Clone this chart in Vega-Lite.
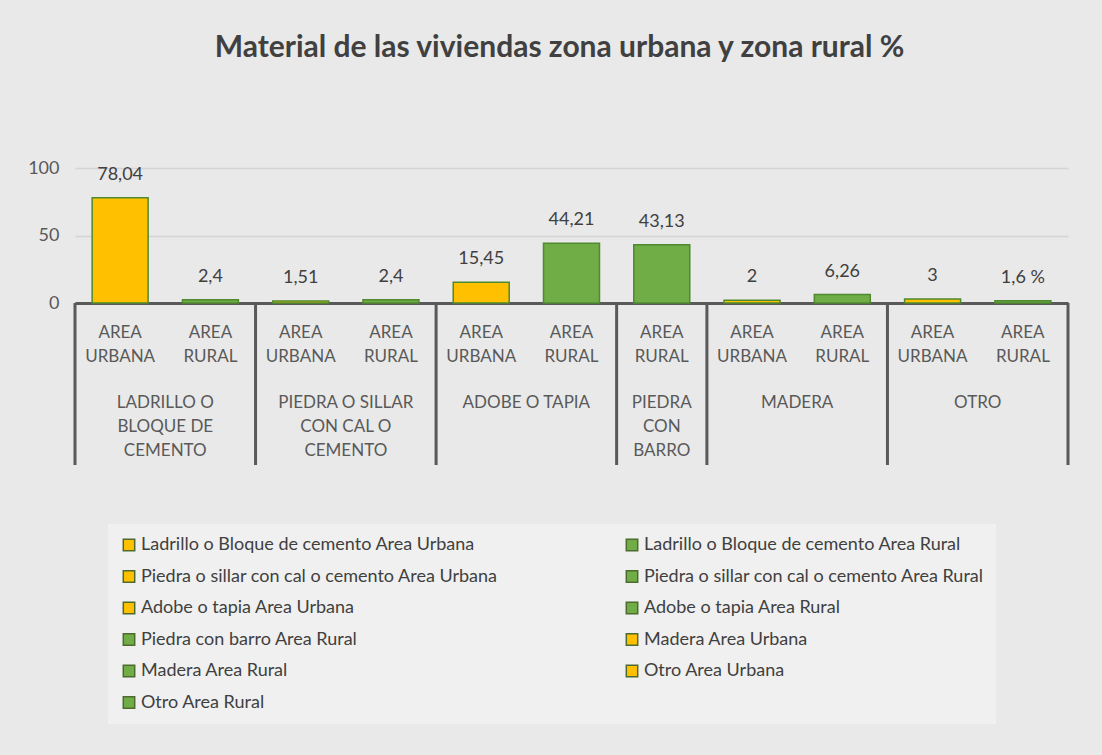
{
  "$schema": "https://vega.github.io/schema/vega-lite/v6.json",
  "width": 993,
  "height": 135,
  "autosize": "none",
  "padding": {"left": 75, "top": 168, "right": 34, "bottom": 452},
  "background": "#e9e9e9",
  "title": {
    "text": "Material  de las viviendas  zona urbana y zona rural %",
    "fontSize": 30,
    "font": "Lato",
    "fontWeight": "bold",
    "color": "#404040",
    "anchor": "middle",
    "frame": "group",
    "offset": 96,
    "dx": -12
  },
  "datasets": {
    "barras": [
      {"serie": "Ladrillo o Bloque de cemento Area Urbana", "area": "AREA\nURBANA", "valor": 78.04, "etiqueta": "78,04"},
      {"serie": "Ladrillo o Bloque de cemento Area Rural", "area": "AREA\nRURAL", "valor": 2.4, "etiqueta": "2,4"},
      {"serie": "Piedra o sillar con cal o cemento Area Urbana", "area": "AREA\nURBANA", "valor": 1.51, "etiqueta": "1,51"},
      {"serie": "Piedra o sillar con cal o cemento Area Rural", "area": "AREA\nRURAL", "valor": 2.4, "etiqueta": "2,4"},
      {"serie": "Adobe o tapia Area Urbana", "area": "AREA\nURBANA", "valor": 15.45, "etiqueta": "15,45"},
      {"serie": "Adobe o tapia Area Rural", "area": "AREA\nRURAL", "valor": 44.21, "etiqueta": "44,21"},
      {"serie": "Piedra con barro Area Rural", "area": "AREA\nRURAL", "valor": 43.13, "etiqueta": "43,13"},
      {"serie": "Madera Area Urbana", "area": "AREA\nURBANA", "valor": 2, "etiqueta": "2"},
      {"serie": "Madera Area Rural", "area": "AREA\nRURAL", "valor": 6.26, "etiqueta": "6,26"},
      {"serie": "Otro Area Urbana", "area": "AREA\nURBANA", "valor": 3, "etiqueta": "3"},
      {"serie": "Otro Area Rural", "area": "AREA\nRURAL", "valor": 1.6, "etiqueta": "1,6 %"}
    ],
    "grupos": [
      {"grupo": "LADRILLO O\nBLOQUE DE\nCEMENTO", "inicio": "Ladrillo o Bloque de cemento Area Urbana", "n": 2},
      {"grupo": "PIEDRA O SILLAR\nCON CAL O\nCEMENTO", "inicio": "Piedra o sillar con cal o cemento Area Urbana", "n": 2},
      {"grupo": "ADOBE O TAPIA", "inicio": "Adobe o tapia Area Urbana", "n": 2},
      {"grupo": "PIEDRA\nCON\nBARRO", "inicio": "Piedra con barro Area Rural", "n": 1},
      {"grupo": "MADERA", "inicio": "Madera Area Urbana", "n": 2},
      {"grupo": "OTRO", "inicio": "Otro Area Urbana", "n": 2}
    ]
  },
  "layer": [
    {
      "data": {"name": "barras"},
      "mark": {"type": "bar", "width": {"band": 0.62}, "stroke": "#4E8A2E", "strokeWidth": 1.5},
      "encoding": {
        "x": {
          "field": "serie", "type": "nominal",
          "scale": {"domain": ["Ladrillo o Bloque de cemento Area Urbana", "Ladrillo o Bloque de cemento Area Rural", "Piedra o sillar con cal o cemento Area Urbana", "Piedra o sillar con cal o cemento Area Rural", "Adobe o tapia Area Urbana", "Adobe o tapia Area Rural", "Piedra con barro Area Rural", "Madera Area Urbana", "Madera Area Rural", "Otro Area Urbana", "Otro Area Rural"], "paddingInner": 0, "paddingOuter": 0},
          "axis": {"labels": false, "ticks": false, "title": null, "domain": true, "domainColor": "#595959", "domainWidth": 3, "grid": false}
        },
        "y": {
          "field": "valor", "type": "quantitative",
          "scale": {"domain": [0, 100]},
          "axis": {"values": [0, 50, 100], "domain": false, "ticks": false, "title": null, "labelPadding": 16, "labelFontSize": 18, "labelColor": "#595959", "labelFont": "Lato", "gridColor": "#d4d4d4", "gridWidth": 1.5}
        },
        "color": {
          "field": "serie", "type": "nominal",
          "scale": {
            "domain": ["Ladrillo o Bloque de cemento Area Urbana", "Ladrillo o Bloque de cemento Area Rural", "Piedra o sillar con cal o cemento Area Urbana", "Piedra o sillar con cal o cemento Area Rural", "Adobe o tapia Area Urbana", "Adobe o tapia Area Rural", "Piedra con barro Area Rural", "Madera Area Urbana", "Madera Area Rural", "Otro Area Urbana", "Otro Area Rural"],
            "range": ["#FFC000", "#70AD47", "#FFC000", "#70AD47", "#FFC000", "#70AD47", "#70AD47", "#FFC000", "#70AD47", "#FFC000", "#70AD47"]
          },
          "legend": {
            "orient": "none", "legendX": 33, "legendY": 356, "columns": 2, "direction": "horizontal", "title": null,
            "symbolType": "square", "symbolSize": 130, "symbolStrokeColor": "#4E6B2E", "symbolStrokeWidth": 1.5, "symbolOpacity": 1,
            "labelFontSize": 18, "labelFont": "Lato", "labelColor": "#404040", "labelLimit": 450, "labelOffset": 3,
            "rowPadding": 13.5, "columnPadding": 125, "fillColor": "#f0f0f0", "padding": 12
          }
        }
      }
    },
    {
      "data": {"name": "barras"},
      "mark": {"type": "text", "baseline": "bottom", "dy": -14, "fontSize": 18, "font": "Lato", "color": "#404040"},
      "encoding": {
        "x": {"field": "serie", "type": "nominal"},
        "y": {"field": "valor", "type": "quantitative"},
        "text": {"field": "etiqueta"}
      }
    },
    {
      "data": {"name": "barras"},
      "mark": {"type": "text", "baseline": "top", "dy": 22, "fontSize": 17, "font": "Lato", "color": "#595959", "lineBreak": "\n", "lineHeight": 24},
      "encoding": {
        "x": {"field": "serie", "type": "nominal"},
        "y": {"datum": 0},
        "text": {"field": "area"}
      }
    },
    {
      "data": {"name": "grupos"},
      "transform": [{"filter": "datum.n == 2"}],
      "mark": {"type": "text", "baseline": "top", "dy": 92, "fontSize": 17, "font": "Lato", "color": "#595959", "lineBreak": "\n", "lineHeight": 24},
      "encoding": {
        "x": {"field": "inicio", "type": "nominal", "bandPosition": 1},
        "y": {"datum": 0},
        "text": {"field": "grupo"}
      }
    },
    {
      "data": {"name": "grupos"},
      "transform": [{"filter": "datum.n == 1"}],
      "mark": {"type": "text", "baseline": "top", "dy": 92, "fontSize": 17, "font": "Lato", "color": "#595959", "lineBreak": "\n", "lineHeight": 24},
      "encoding": {
        "x": {"field": "inicio", "type": "nominal", "bandPosition": 0.5},
        "y": {"datum": 0},
        "text": {"field": "grupo"}
      }
    },
    {
      "data": {"name": "grupos"},
      "mark": {"type": "rule", "color": "#595959", "strokeWidth": 3, "y2Offset": 162},
      "encoding": {
        "x": {"field": "inicio", "type": "nominal", "bandPosition": 0},
        "y": {"datum": 0},
        "y2": {"datum": 0}
      }
    },
    {
      "data": {"name": "grupos"},
      "transform": [{"filter": "datum.grupo == 'OTRO'"}],
      "mark": {"type": "rule", "color": "#595959", "strokeWidth": 3, "y2Offset": 162},
      "encoding": {
        "x": {"datum": "Otro Area Rural", "bandPosition": 1},
        "y": {"datum": 0},
        "y2": {"datum": 0}
      }
    }
  ],
  "config": {"view": {"stroke": null}, "font": "Lato"}
}
